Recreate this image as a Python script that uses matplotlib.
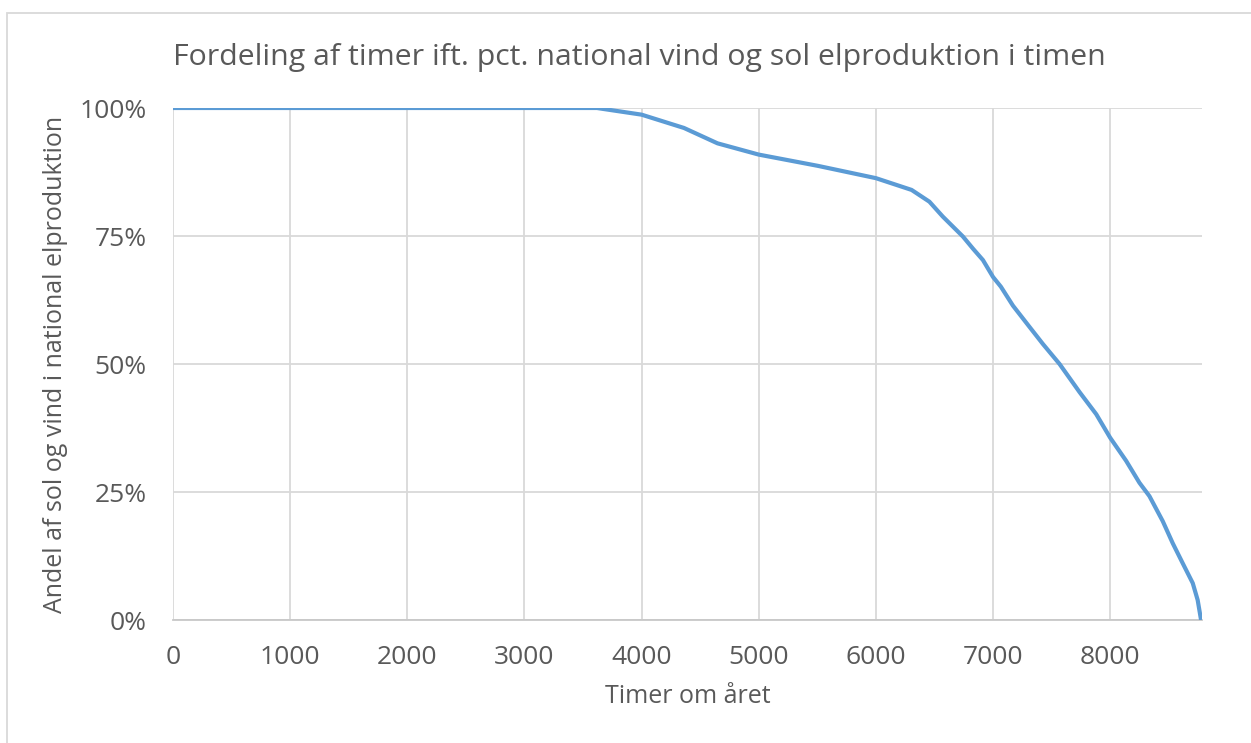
import matplotlib
matplotlib.use("Agg")
import matplotlib.pyplot as plt
from matplotlib.patches import Rectangle
from matplotlib.ticker import FuncFormatter

# Data (hours sorted, share of wind+solar in national production, %)
hours = [0, 3619, 4000, 4362, 4648, 5000, 5505, 6000, 6305, 6457, 6571, 6743, 6830,
         6914, 7000, 7067, 7170, 7313, 7426, 7568, 7739, 7881, 8000, 8136, 8250,
         8335, 8449, 8534, 8619, 8705, 8747, 8776]
share = [100, 100, 98.7, 96.1, 93.1, 90.9, 88.7, 86.3, 84.0, 81.7, 78.8, 74.9, 72.5,
         70.3, 67.0, 65.1, 61.4, 57.2, 53.9, 50.0, 44.5, 40.2, 35.6, 31.1, 26.8,
         24.2, 19.3, 15.0, 11.1, 7.2, 3.9, 0.0]
x_ticks = [0, 1000, 2000, 3000, 4000, 5000, 6000, 7000, 8000]
y_ticks = [0, 25, 50, 75, 100]

title = "Fordeling af timer ift. pct. national vind og sol elproduktion i timen"
xlabel = "Timer om året"
ylabel = "Andel af sol og vind i national elproduktion"

plt.rcParams['font.family'] = ['Open Sans', 'DejaVu Sans']
W, H = 1251, 743
fig = plt.figure(figsize=(W / 100, H / 100), dpi=100)
fig.patch.set_facecolor('white')

# chart frame (top and left edges visible)
fig.patches.append(Rectangle((7 / W, -0.05), 1.1, 1 - 12.5 / H + 0.05,
                             transform=fig.transFigure, fill=False,
                             edgecolor='#d9d9d9', linewidth=1.3))

left, right, top, bottom = 173, 1202, 108, 620
ax = fig.add_axes([left / W, 1 - bottom / H, (right - left) / W, (bottom - top) / H])
ax.plot(hours, share, color='#5b9bd5', linewidth=3.0, solid_capstyle='butt', zorder=3)

ax.set_xlim(0, 8784)
ax.set_ylim(0, 100)
ax.set_xticks(x_ticks)
ax.set_yticks(y_ticks)
ax.yaxis.set_major_formatter(FuncFormatter(lambda v, p: f"{int(v)}%"))
ax.grid(True, color='#d9d9d9', linewidth=1.3)
ax.set_axisbelow(True)
for s in ['top', 'right', 'left']:
    ax.spines[s].set_visible(False)
ax.spines['bottom'].set_color('#c8c8c8')
ax.spines['bottom'].set_linewidth(1.3)
ax.tick_params(axis='both', length=0, labelsize=19, labelcolor='#595959')
ax.tick_params(axis='x', pad=18)
ax.tick_params(axis='y', pad=19)

ax.set_xlabel(xlabel, fontsize=18, color='#595959', labelpad=10)
ax.set_ylabel(ylabel, fontsize=18, color='#595959', labelpad=8)
fig.text(173 / W, 1 - 65 / H, title, fontsize=21.8, color='#595959',
         ha='left', va='baseline')

fig.savefig("out.png", dpi=100)
